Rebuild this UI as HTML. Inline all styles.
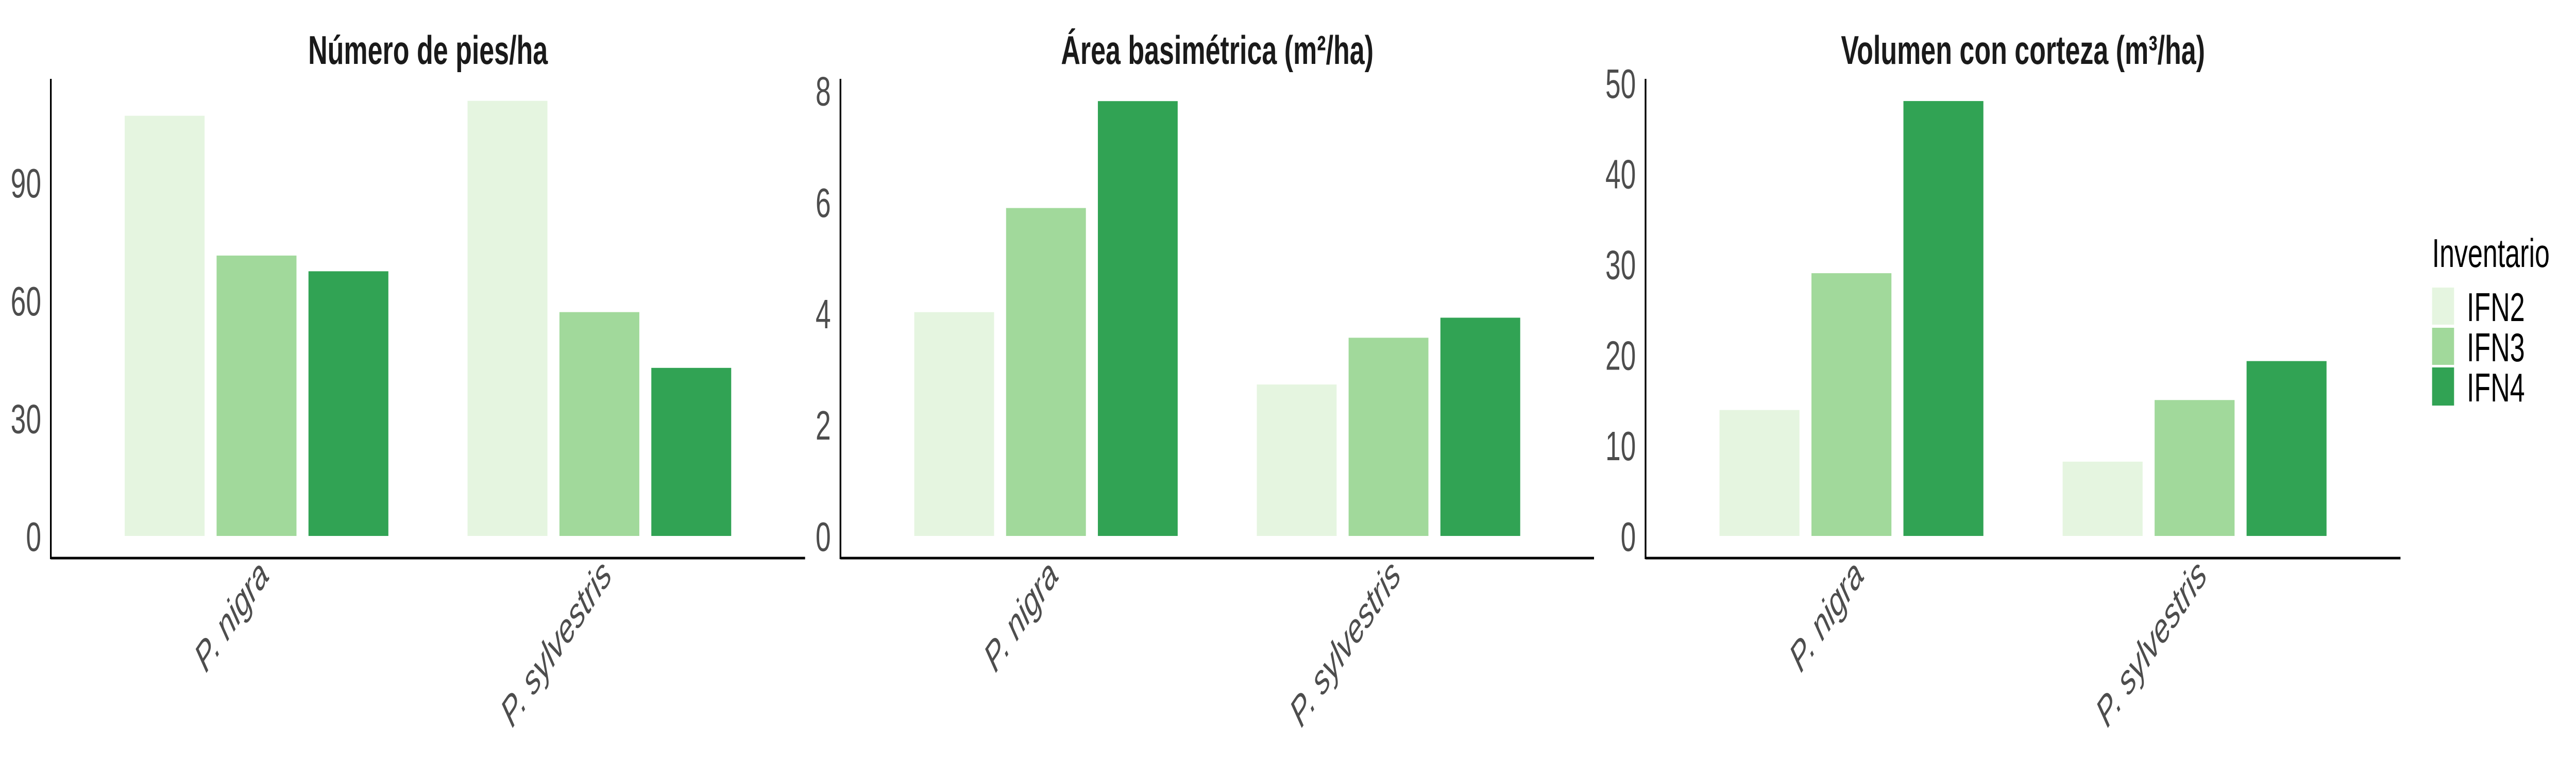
<!DOCTYPE html>
<html><head><meta charset="utf-8"><style>
html,body{margin:0;padding:0;background:#fff;width:100%;height:100%;overflow:hidden;}
svg{display:block;position:absolute;left:0;top:0;width:100vw;height:100vh;font-family:"Liberation Sans",Arial,sans-serif;}
</style></head><body>
<svg id="chart" viewBox="0 0 7500 1500" preserveAspectRatio="none" xmlns="http://www.w3.org/2000/svg">
<g id="legend">
  <text x="7081" y="518" font-size="78" fill="#000">Inventario</text>
  <rect x="7081" y="558" width="64" height="72" fill="#e5f5e0"/>
  <text x="7182" y="623" font-size="78" fill="#000">IFN2</text>
  <rect x="7081" y="636" width="64" height="72" fill="#a1d99b"/>
  <text x="7182" y="701" font-size="78" fill="#000">IFN3</text>
  <rect x="7081" y="713" width="64" height="74" fill="#31a354"/>
  <text x="7182" y="779" font-size="78" fill="#000">IFN4</text>
</g>
</svg>
<script>
const categories = ["P. nigra", "P. sylvestris"];
const seriesNames = ["IFN2", "IFN3", "IFN4"];
const panelTitles = ["Número de pies/ha", "Área basimétrica (m²/ha)", "Volumen con corteza (m³/ha)"];
const piesValues = [[107, 110.8], [71.4, 57], [67.4, 42.8]];
const areaValues = [[4.02, 2.72], [5.89, 3.56], [7.81, 3.92]];
const volumenValues = [[13.9, 8.2], [29.0, 15.0], [48.0, 19.3]];
const piesTicks = [0, 30, 60, 90];
const areaTicks = [0, 2, 4, 6, 8];
const volumenTicks = [0, 10, 20, 30, 40, 50];
const piesMax = 116.4;
const areaMax = 8.21;
const volumenMax = 50.45;

const colors = ["#e5f5e0", "#a1d99b", "#31a354"];
const NS = "http://www.w3.org/2000/svg";
const svg = document.getElementById("chart");
const panels = [
  {x0:148, x1:2344, values:piesValues, ticks:piesTicks, max:piesMax, title:panelTitles[0], key:"pies"},
  {x0:2447, x1:4641, values:areaValues, ticks:areaTicks, max:areaMax, title:panelTitles[1], key:"area"},
  {x0:4791, x1:6989, values:volumenValues, ticks:volumenTicks, max:volumenMax, title:panelTitles[2], key:"volumen"}
];
const yBase = 1040, yTop = 153, axisY = 1083;
function mk(tag, attrs){const e=document.createElementNS(NS,tag);for(const k in attrs)e.setAttribute(k,attrs[k]);return e;}

panels.forEach(function(p, pi){
  const g = mk("g", {});
  
  
  svg.appendChild(g);
  const unit = (p.x1 - p.x0) / 2.2;
  const xScale = function(ci){ return p.x0 + (0.6 + ci) * unit; };
  const yScale = function(v){ return yBase - v / p.max * (yBase - yTop); };
  const bw = 0.233 * unit, step = 0.268 * unit;

  const t = mk("text", {x:(p.x0+p.x1)/2, y:124, "font-size":78, "font-weight":"bold", "text-anchor":"middle", fill:"#1a1a1a"});
  t.textContent = p.title;
  
  
  g.appendChild(t);

  p.values.forEach(function(series, si){
    series.forEach(function(v, ci){
      const cx = xScale(ci) + (si - 1) * step;
      const r = mk("rect", {x:cx - bw/2, y:yScale(v), width:bw, height:yBase - yScale(v), fill:colors[si]});
      
      
      g.appendChild(r);
    });
  });

  p.ticks.forEach(function(tv){
    const tl = mk("text", {x:p.x0 - 28, y:yScale(tv) + 29, "font-size":80, "text-anchor":"end", fill:"#4d4d4d"});
    tl.textContent = String(tv);
    
    
    g.appendChild(tl);
  });

  categories.forEach(function(c, ci){
    const ax = xScale(ci) + 40, ay = 1120;
    const xl = mk("text", {x:ax, y:ay, "font-size":80, "font-style":"italic", "text-anchor":"end", fill:"#4d4d4d", transform:"rotate(-45 "+ax+" "+ay+")"});
    xl.textContent = c;
    
    
    g.appendChild(xl);
  });

  const ya = mk("line", {x1:p.x0, y1:yTop, x2:p.x0, y2:axisY+2, stroke:"#000", "stroke-width":5});
  
  
  g.appendChild(ya);
  const xa = mk("line", {x1:p.x0, y1:axisY, x2:p.x1, y2:axisY, stroke:"#000", "stroke-width":5});
  
  
  g.appendChild(xa);
});
</script>
</body></html>
